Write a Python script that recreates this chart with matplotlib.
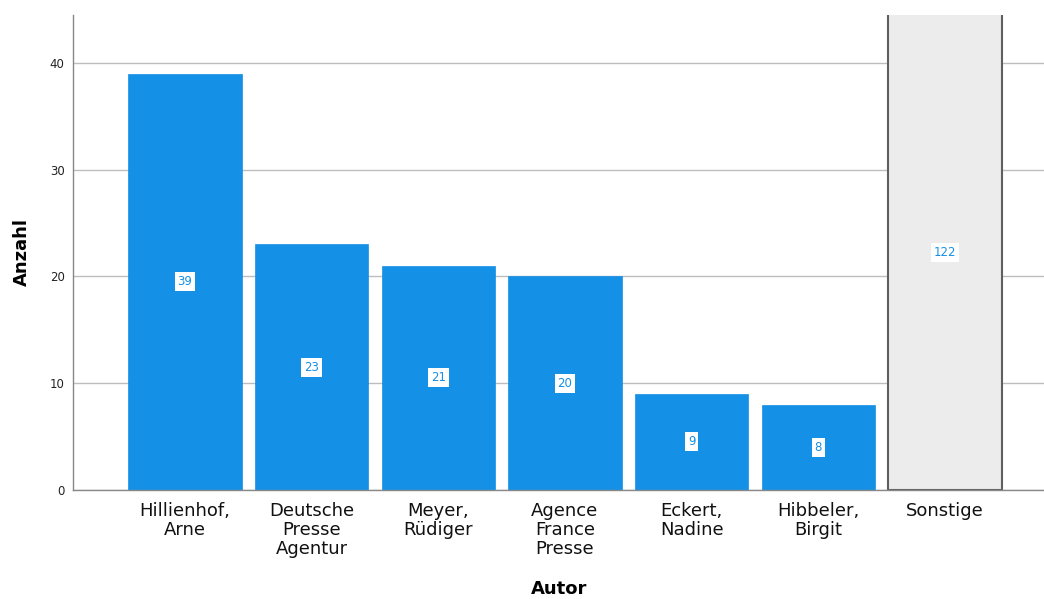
import matplotlib
matplotlib.use("Agg")
import matplotlib.pyplot as plt

autoren = ["Hillienhof,\nArne", "Deutsche\nPresse\nAgentur", "Meyer,\nRüdiger",
           "Agence\nFrance\nPresse", "Eckert,\nNadine", "Hibbeler,\nBirgit", "Sonstige"]
anzahl = [39, 23, 21, 20, 9, 8, 122]
farben = ["#1490e6"] * 6 + ["#ececec"]
kanten = ["#1490e6"] * 6 + ["#5f5f5f"]

plt.rcParams['font.family'] = ['DejaVu Sans']

fig = plt.figure(figsize=(10.44, 5.99), dpi=100)
ax = fig.add_axes([0.0699, 0.182, 0.931, 0.793])

ymax = 44.5
x = range(len(autoren))
ax.bar(x, anzahl, width=0.895, color=farben, edgecolor=kanten,
       linewidth=[0.5] * 6 + [1.5], zorder=3)

for i, v in enumerate(anzahl):
    ax.text(i, min(v, ymax) / 2, str(v), ha='center', va='center', fontsize=8.5,
            color='#1490e6', zorder=4,
            bbox=dict(boxstyle='square,pad=0.25', fc='white', ec='none'))

ax.set_ylim(0, ymax)
ax.set_xlim(-0.885, 6.79)
ax.set_yticks([0, 10, 20, 30, 40])
ax.set_xticks(list(x))
ax.set_xticklabels(autoren, fontsize=13, linespacing=1.04, color='#111111')
ax.tick_params(axis='y', length=0, labelsize=8.5, pad=6, colors='#222222')
ax.tick_params(axis='x', length=0, pad=9)
ax.yaxis.grid(True, color='#bdbdbd', linewidth=1, zorder=0)
for s in ['top', 'right']:
    ax.spines[s].set_visible(False)
for s in ['left', 'bottom']:
    ax.spines[s].set_color('#888888')
    ax.spines[s].set_linewidth(1)
    ax.spines[s].set_zorder(5)

ax.set_ylabel('Anzahl', fontsize=13, fontweight='bold', va='center')
ax.yaxis.set_label_coords(-0.0525, 0.5)
ax.set_xlabel('Autor', fontsize=13, fontweight='bold', va='center')
ax.xaxis.set_label_coords(0.5, -0.208)

fig.savefig('out.png', dpi=100)
